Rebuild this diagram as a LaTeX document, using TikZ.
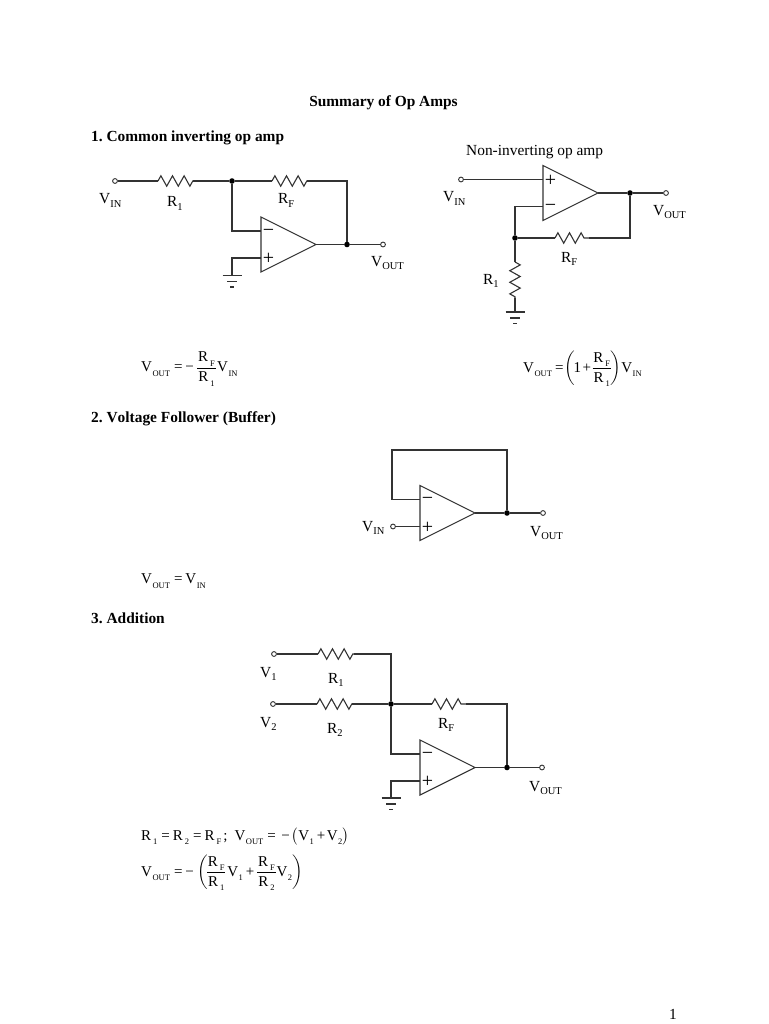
\documentclass[tikz,border=0pt]{standalone}
\usepackage{amsmath}
\usepackage{fontspec}
\setmainfont{Liberation Serif}
\frenchspacing
\usetikzlibrary{decorations.pathmorphing}
\definecolor{wirecol}{gray}{0.2}
\newcommand\sz[1]{\fontsize{#1}{#1}\selectfont}
% circuit label with subscript
\newcommand\lab[2]{#1\raisebox{-0.22em}{\sz{10.5}#2}}
% equation symbols with subscript
\newcommand\eqV[1]{\text{V\raisebox{-0.3em}{\hspace{0.5pt}\sz{8.5}#1}}}
\newcommand\eqR[1]{\text{R\hspace{2pt}\raisebox{-0.3em}{\sz{8.5}#1}}}
\newcommand\eqf[2]{{\dfrac{\eqR{#1}}{\hspace{1pt}\eqR{#2}\hspace{1pt}}}}
\newcommand\EQ{\text{\hspace{4pt}=\hspace{3pt}}}
\newcommand\MN{\text{−}\hspace{3.5pt}}
\tikzset{
  wire/.style={draw=wirecol,line width=1.1pt},
  resistor/.style={wire,decorate,decoration={zigzag,segment length=11.6pt,amplitude=5.2pt,pre length=0pt,post length=0pt}},
  terminal/.style={circle,draw=wirecol,fill=white,line width=0.9pt,inner sep=0pt,minimum size=4.8pt},
  junction/.style={circle,fill=black,inner sep=0pt,minimum size=5.6pt},
  head/.style={font=\sz{15.4}\bfseries,anchor=base west,inner sep=0pt},
  plain/.style={font=\sz{15.4},anchor=base west,inner sep=0pt},
  eqn/.style={font=\sz{15},anchor=west,inner sep=0pt},
  opsign/.style={font=\sz{20},inner sep=0pt},
}
% \opamp{name}{left x}{mid y}{sign on top: 1 = minus, 0 = plus}
\newcommand\opamp[4]{%
  \coordinate (#1-tl) at (#2,#3-27.5);
  \coordinate (#1-bl) at (#2,#3+27.5);
  \coordinate (#1-o) at (#2+55,#3);
  \coordinate (#1-a) at (#2,#3-13.5);
  \coordinate (#1-b) at (#2,#3+13.5);
  \draw[wire] (#1-tl) -- (#1-o) -- (#1-bl) -- cycle;
  \ifnum#4=1
    \node[opsign] (#1-sa) at (#2+7.5,#3-12) {−};
    \node[opsign] (#1-sb) at (#2+7.5,#3+14.5) {+};
  \else
    \node[opsign] (#1-sa) at (#2+7.5,#3-12.5) {+};
    \node[opsign] (#1-sb) at (#2+7.5,#3+15) {−};
  \fi
}
% \gnd{name}{x}{y}
\newcommand\gnd[3]{%
  \coordinate (#1) at (#2,#3);
  \draw[wire] (#2-9.5,#3) -- (#2+9.5,#3);
  \draw[wire] (#2-5,#3+6) -- (#2+5,#3+6);
  \draw[wire] (#2-2,#3+11.5) -- (#2+2,#3+11.5);
}
\begin{document}
\nulldelimiterspace=0pt
\begin{tikzpicture}[x=1pt,y=-1pt]
\useasboundingbox (0,0) rectangle (768,1024);
\fill[white] (0,0) rectangle (768,1024);

% --- headings
\node[font=\sz{15.4}\bfseries,inner sep=0pt,anchor=base] (title) at (383.5,106.5) {Summary of Op Amps};
\node[head] (h1) at (91,141.5) {1. Common inverting op amp};
\node[plain] (h1b) at (466,155.5) {Non-inverting op amp};
\node[head] (h2) at (91,422) {\addfontfeatures{Kerning=Off}2. Voltage Follower (Buffer)};
\node[head] (h3) at (91,623) {3. Addition};
\node[plain] (page) at (669,1019) {1};

% --- circuit 1: inverting
\opamp{A}{261}{244.5}{1}
\node[terminal] (a-in) at (115,181) {};
\coordinate (a-r1a) at (158,181);
\coordinate (a-r1b) at (193,181);
\node[junction] (a-j) at (232,181) {};
\coordinate (a-rfa) at (272,181);
\coordinate (a-rfb) at (307,181);
\node[junction] (a-jo) at (347,244.5) {};
\node[terminal] (a-out) at (383,244.5) {};
\gnd{a-g}{232}{275.5}
\draw[wire] (a-in) -- (a-r1a);
\draw[resistor] (a-r1a) -- (a-r1b);
\draw[wire] (a-r1b) -- (a-j);
\draw[wire] (a-j) -- (a-rfa);
\draw[resistor] (a-rfa) -- (a-rfb);
\draw[wire] (a-rfb) -| (a-jo);
\draw[wire] (a-j) |- (A-a);
\draw[wire] (A-b) -| (a-g);
\draw[wire] (A-o) -- (a-jo);
\draw[wire] (a-jo) -- (a-out);
\node[plain] (a-lin) at (99,204) {\lab{V}{IN}};
\node[plain] (a-lr1) at (167,207) {\lab{R}{1}};
\node[plain] (a-lrf) at (278,204) {\lab{R}{F}};
\node[plain] (a-lout) at (371,266) {\lab{V}{OUT}};

% --- circuit 2: non-inverting
\opamp{B}{543}{193}{0}
\node[terminal] (b-in) at (461,179.5) {};
\node[junction] (b-jo) at (630,193) {};
\node[terminal] (b-out) at (666,193) {};
\node[junction] (b-j) at (515,238) {};
\coordinate (b-rfa) at (555,238);
\coordinate (b-rfb) at (589,238);
\coordinate (b-r1a) at (515,262);
\coordinate (b-r1b) at (515,298);
\gnd{b-g}{515}{312}
\draw[wire] (b-in) -- (B-a);
\draw[wire] (B-o) -- (b-jo);
\draw[wire] (b-jo) -- (b-out);
\draw[wire] (B-b) -| (b-j);
\draw[wire] (b-j) -- (b-rfa);
\draw[resistor] (b-rfa) -- (b-rfb);
\draw[wire] (b-rfb) -| (b-jo);
\draw[wire] (b-j) -- (b-r1a);
\draw[resistor] (b-r1a) -- (b-r1b);
\draw[wire] (b-r1b) -- (b-g);
\node[plain] (b-lin) at (443,202) {\lab{V}{IN}};
\node[plain] (b-lout) at (653,215) {\lab{V}{OUT}};
\node[plain] (b-lrf) at (561,262) {\lab{R}{F}};
\node[plain] (b-lr1) at (483,284) {\lab{R}{1}};

% --- equations, first row
\node[eqn] (eq1) at (141,369) {$\eqV{OUT}\EQ\MN\eqf{F}{1}\hspace{1.5pt}\eqV{IN}$};
\node[eqn] (eq2) at (523,369) {$\eqV{OUT}\text{\hspace{3pt}=\hspace{1pt}}{\left(\hspace{-1.5pt}\text{1}\text{\hspace{1.5pt}+\hspace{1.5pt}}\eqf{F}{1}\right)}\eqV{IN}$};

% --- circuit 3: follower
\opamp{C}{420}{513}{1}
\node[terminal] (c-in) at (393,526.5) {};
\node[junction] (c-jo) at (507,513) {};
\node[terminal] (c-out) at (543,513) {};
\coordinate (c-tl) at (392,450);
\coordinate (c-tr) at (507,450);
\draw[wire] (C-a) -| (c-tl) -- (c-tr) -- (c-jo);
\draw[wire] (c-in) -- (C-b);
\draw[wire] (C-o) -- (c-jo);
\draw[wire] (c-jo) -- (c-out);
\node[plain] (c-lin) at (362,531) {\lab{V}{IN}};
\node[plain] (c-lout) at (530,536) {\lab{V}{OUT}};
\node[eqn] (eq3) at (141,581) {$\eqV{OUT}\EQ\eqV{IN}$};

% --- circuit 4: addition
\opamp{D}{420}{767.5}{1}
\node[terminal] (d-v1) at (274,654) {};
\node[terminal] (d-v2) at (273,704) {};
\coordinate (d-r1a) at (318,654);
\coordinate (d-r1b) at (354,654);
\coordinate (d-r2a) at (317,704);
\coordinate (d-r2b) at (352,704);
\coordinate (d-c) at (391,654);
\node[junction] (d-j) at (391,704) {};
\coordinate (d-rfa) at (432,704);
\coordinate (d-rfb) at (466,704);
\node[junction] (d-jo) at (507,767.5) {};
\node[terminal] (d-out) at (542,767.5) {};
\gnd{d-g}{391}{798}
\draw[wire] (d-v1) -- (d-r1a);
\draw[resistor] (d-r1a) -- (d-r1b);
\draw[wire] (d-r1b) -- (d-c) -- (d-j);
\draw[wire] (d-v2) -- (d-r2a);
\draw[resistor] (d-r2a) -- (d-r2b);
\draw[wire] (d-r2b) -- (d-j);
\draw[wire] (d-j) -- (d-rfa);
\draw[resistor] (d-rfa) -- (d-rfb);
\draw[wire] (d-rfb) -| (d-jo);
\draw[wire] (d-j) |- (D-a);
\draw[wire] (D-b) -| (d-g);
\draw[wire] (D-o) -- (d-jo);
\draw[wire] (d-jo) -- (d-out);
\node[plain] (d-lv1) at (260,677) {\lab{V}{1}};
\node[plain] (d-lr1) at (328,683) {\lab{R}{1}};
\node[plain] (d-lv2) at (260,727) {\lab{V}{2}};
\node[plain] (d-lr2) at (327,733) {\lab{R}{2}};
\node[plain] (d-lrf) at (438,728) {\lab{R}{F}};
\node[plain] (d-lout) at (529,791) {\lab{V}{OUT}};

% --- equations, last
\node[eqn] (eq4) at (141,836.5) {$\eqR{1}\EQ\eqR{2}\EQ\eqR{F}\text{\hspace{2pt};\hspace{7pt}}\eqV{OUT}\EQ\text{\hspace{2.5pt}}\text{−}\hspace{2pt}\bigl(\eqV{1}\text{\hspace{3pt}+\hspace{1.5pt}}\eqV{2}\bigr)$};
\node[eqn] (eq5) at (141,873) {$\eqV{OUT}\EQ\MN{\left(\hspace{-1pt}\eqf{F}{1}\hspace{2pt}\eqV{1}\text{\hspace{3pt}+\hspace{3pt}}\eqf{F}{2}\hspace{1pt}\eqV{2}\right)}$};
\end{tikzpicture}
\end{document}
